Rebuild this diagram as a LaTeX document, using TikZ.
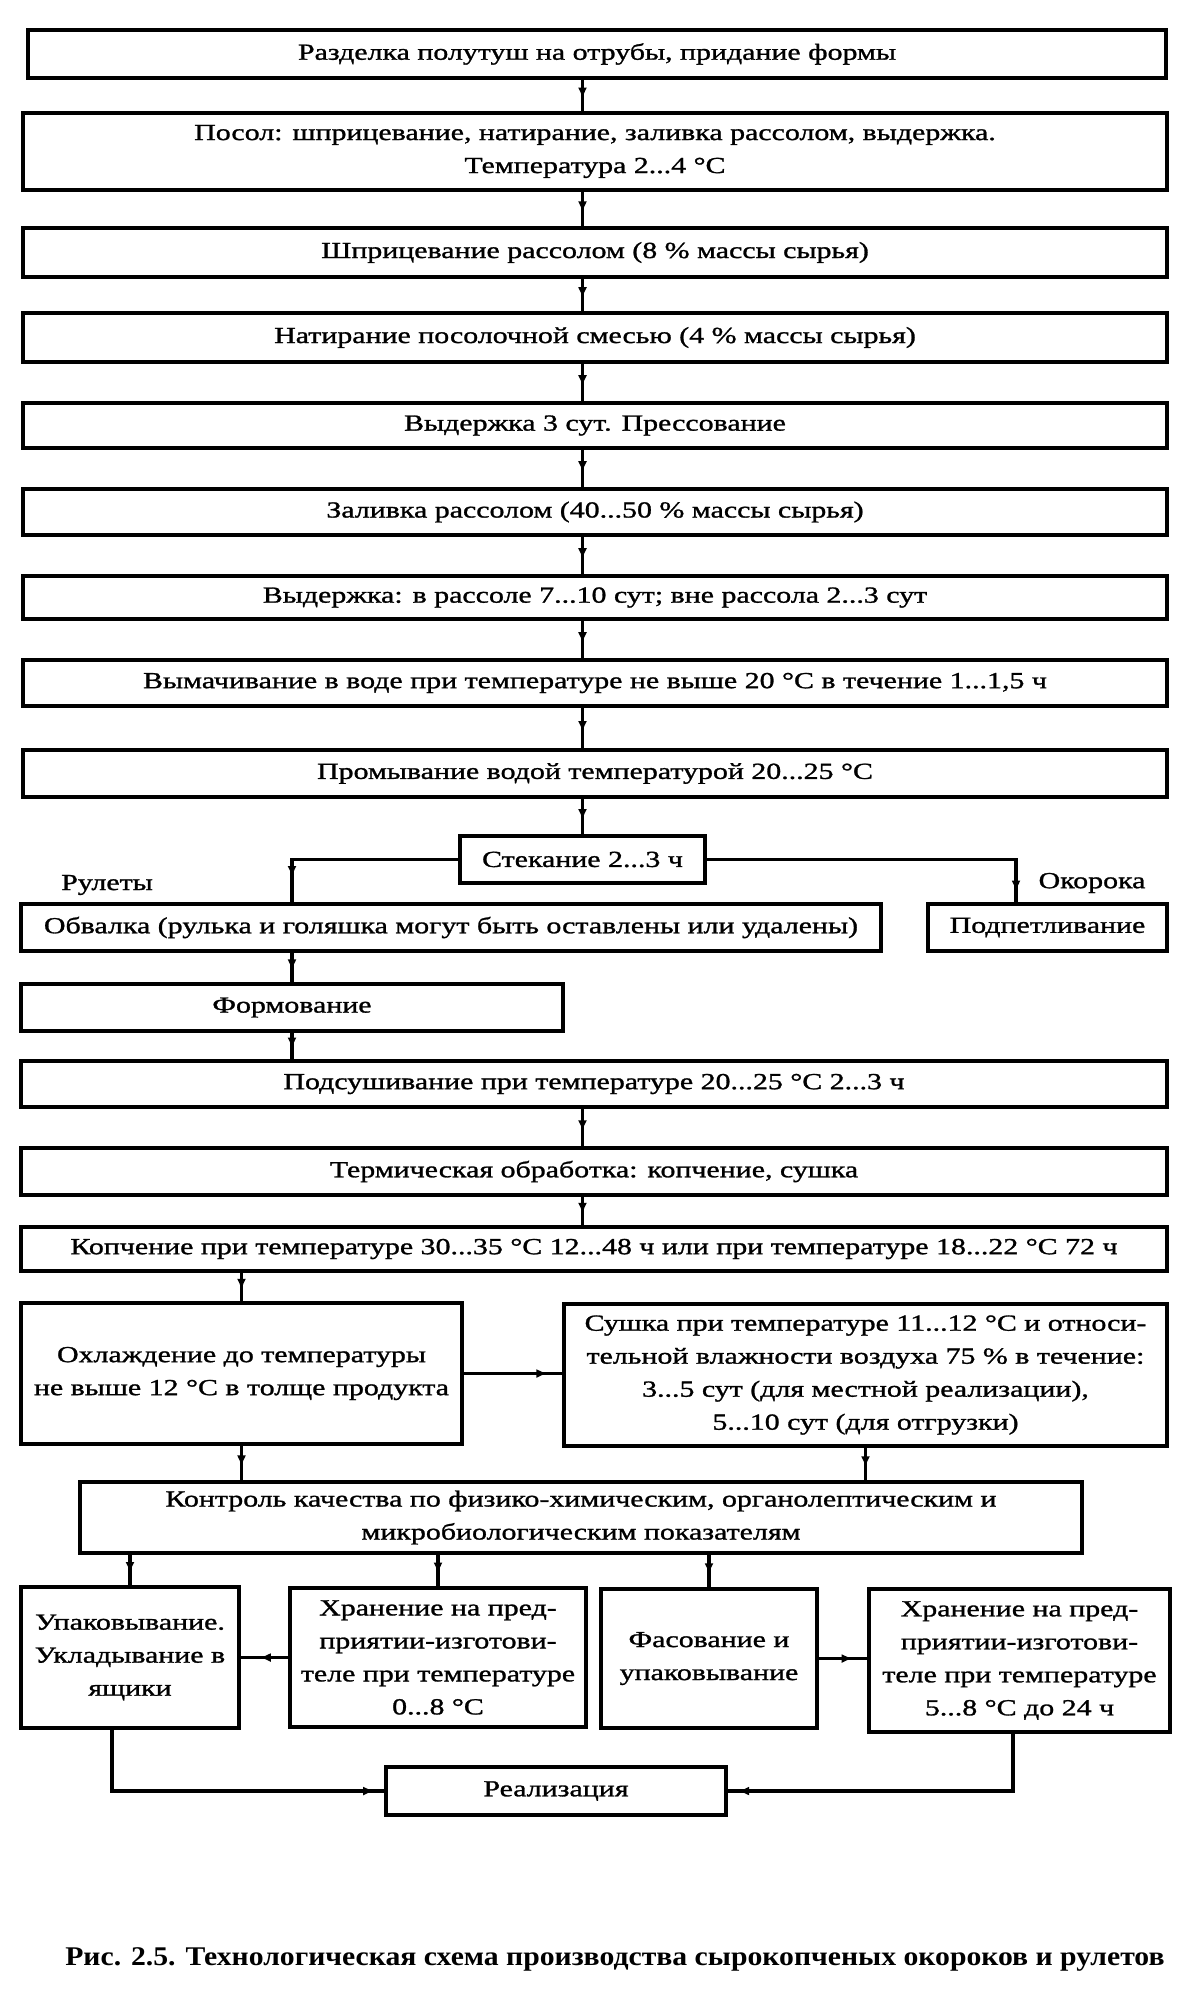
\documentclass[tikz,border=0pt]{standalone}
\usepackage{fontspec}
\setmainfont{Liberation Serif}[FakeStretch=1.3,FakeBold=1.2]
\newfontfamily\capfont{Liberation Serif}[FakeStretch=1.1]
\usetikzlibrary{fit,calc,decorations.markings,arrows.meta}
\tikzset{
 pbox/.style={draw, line width=1.8pt, inner sep=0pt},
 btxt/.style={inner sep=0pt, anchor=center, align=center, font=\fontsize{11.5pt}{16.5pt}\selectfont},
 conn/.style={line width=1.6pt},
 midarrow/.style={conn, postaction={decorate}, decoration={markings, mark=at position #1 with {\arrow{Latex[length=5.5pt,width=4.5pt]}}}},
 midarrow/.default=0.55,
 lbl/.style={font=\fontsize{11.5pt}{16.5pt}\selectfont, inner sep=0pt}
}
\newcommand\bx[6]{\node[pbox, fit={(#2,#3) (#4,#5)}] (#1) {}; \node[btxt] (#1t) at (#1.center) {#6};}
\begin{document}
\begin{tikzpicture}[x=0.5pt,y=-0.5pt]
\useasboundingbox (0,0) rectangle (1187,2006);
\bx{b1}{28}{30}{1166}{78}{Разделка полутуш на отрубы, придание формы}
\bx{b2}{23}{113}{1167}{190}{\fontsize{11.5pt}{14.5pt}\selectfont Посол: шприцевание, натирание, заливка рассолом, выдержка.\\Температура 2...4 °C}
\bx{b3}{23}{228}{1167}{277}{Шприцевание рассолом (8 \% массы сырья)}
\bx{b4}{23}{313}{1167}{362}{Натирание посолочной смесью (4 \% массы сырья)}
\bx{b5}{23}{403}{1167}{448}{Выдержка 3 сут. Прессование}
\bx{b6}{23}{489}{1167}{535}{Заливка рассолом (40...50 \% массы сырья)}
\bx{b7}{23}{576}{1167}{619}{Выдержка: в рассоле 7...10 сут; вне рассола 2...3 сут}
\bx{b8}{23}{660}{1167}{706}{Вымачивание в воде при температуре не выше 20 °C в течение 1...1,5 ч}
\bx{b9}{23}{750}{1167}{797}{Промывание водой температурой 20...25 °C}
\bx{st}{460}{836}{705}{883}{Стекание 2...3 ч}
\node[lbl] (lr) at (107,885) {Рулеты};
\node[lbl] (lo) at (1092,883) {Окорока};
\bx{ob}{21}{904}{881}{951}{Обвалка (рулька и голяшка могут быть оставлены или удалены)}
\bx{pp}{928}{904}{1167}{951}{Подпетливание}
\bx{fm}{21}{984}{563}{1031}{Формование}
\bx{ps}{21}{1061}{1167}{1107}{Подсушивание при температуре 20...25 °C 2...3 ч}
\bx{tr}{21}{1148}{1167}{1195}{Термическая обработка: копчение, сушка}
\bx{kp}{21}{1227}{1167}{1271}{Копчение при температуре 30...35 °C 12...48 ч или при температуре 18...22 °C 72 ч}
\bx{ox}{21}{1303}{462}{1444}{Охлаждение до температуры\\не выше 12 °C в толще продукта}
\bx{su}{564}{1304}{1167}{1446}{Сушка при температуре 11...12 °C и относи-\\тельной влажности воздуха 75 \% в течение:\\3...5 сут (для местной реализации),\\5...10 сут (для отгрузки)}
\bx{kn}{80}{1482}{1082}{1553}{Контроль качества по физико-химическим, органолептическим и\\микробиологическим показателям}
\bx{up}{21}{1587}{239}{1728}{Упаковывание.\\Укладывание в\\ящики}
\bx{h1}{290}{1588}{586}{1727}{Хранение на пред-\\приятии-изготови-\\теле при температуре\\0...8 °C}
\bx{fs}{601}{1589}{817}{1728}{Фасование и\\упаковывание}
\bx{h2}{869}{1589}{1170}{1732}{Хранение на пред-\\приятии-изготови-\\теле при температуре\\5...8 °C до 24 ч}
\bx{rl}{386}{1767}{726}{1815}{Реализация}
\node[inner sep=0pt, font=\capfont\bfseries\fontsize{13.5pt}{15pt}\selectfont] (cap) at (615,1959) {Рис. 2.5. Технологическая схема производства сырокопченых окороков и рулетов};
% main chain
\foreach \a/\b in {b1/b2,b2/b3,b3/b4,b4/b5,b5/b6,b6/b7,b7/b8,b8/b9,b9/st,ps/tr,tr/kp}
  \draw[midarrow=0.6] (\a.south -| st.north) -- (\b.north -| st.north);
% branches
\draw[midarrow=0.88] (st.west) -| (ob.north -| fm.north);
\draw[midarrow=0.97] (st.east) -| ($(pp.north)+(-31.5,0)$);
\draw[midarrow=0.6] (ob.south -| fm.north) -- (fm.north);
\draw[midarrow=0.6] (fm.south) -- (fm.south |- ps.north);
\draw[midarrow=0.75] ($(pp.south)+(-31.5,0)$) -- ($(pp.south)+(-31.5,0)$ |- ps.north);
\draw[midarrow=0.6] (kp.south -| ox.north) -- (ox.north);
\draw[midarrow=0.85] (ox.east) -- (su.west |- ox.east);
\draw[midarrow=0.6] (ox.south) -- (ox.south |- kn.north);
\draw[midarrow=0.6] (su.south) -- (su.south |- kn.north);
\draw[midarrow=0.6] (kn.south -| up.north) -- (up.north);
\draw[midarrow=0.6] (kn.south -| h1.north) -- (h1.north);
\draw[midarrow=0.6] (kn.south -| fs.north) -- (fs.north);
\draw[midarrow=0.6] (h1.west) -- (up.east |- h1.west);
\draw[midarrow=0.7] (fs.east) -- (h2.west |- fs.east);
\draw[midarrow=0.97] ($(up.south)+(-18,0)$) |- (rl.west);
\draw[midarrow=0.6] ($(h1.south)+(-18,0)$) -- ($(h1.south)+(-18,0)$ |- rl.north);
\draw[midarrow=0.6] ($(fs.south)+(-18,0)$) -- ($(fs.south)+(-18,0)$ |- rl.north);
\draw[midarrow=0.97] ($(h2.south)+(-6.5,0)$) |- (rl.east);
\end{tikzpicture}
\end{document}
